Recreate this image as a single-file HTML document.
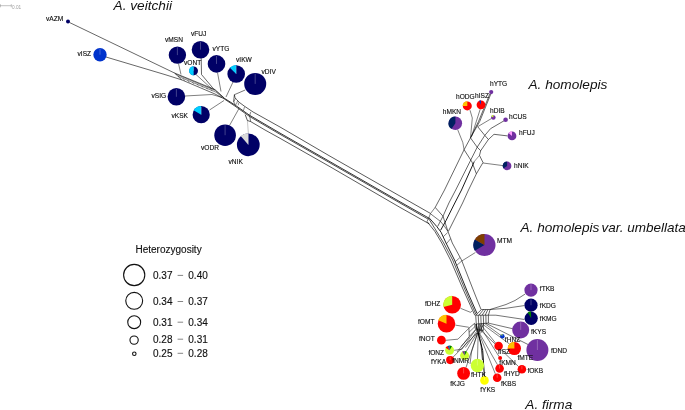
<!DOCTYPE html>
<html><head><meta charset="utf-8"><title>Abies network</title>
<style>
html,body{margin:0;padding:0;background:#fff;}
body{width:685px;height:410px;overflow:hidden;}
svg{display:block;font-family:"Liberation Sans",sans-serif;}
svg text{fill:#111;}
#labels text,#legend text{stroke:#111;stroke-width:0.14px;}
</style></head>
<body>
<svg width="685" height="410" viewBox="0 0 685 410">
<rect width="685" height="410" fill="#fff"/>
<g id="lines" stroke-linecap="butt" stroke-linejoin="miter">
<path d="M69.5 22.5L174.5 73.0L215.0 89.6L224.2 98.0" stroke="#000" stroke-width="0.6" fill="none"/>
<path d="M106.0 57.0L165.0 74.6L181.8 79.9L215.0 94.0L224.2 98.9" stroke="#000" stroke-width="0.6" fill="none"/>
<path d="M174.5 73.0L181.8 79.9" stroke="#000" stroke-width="0.55" fill="none"/>
<path d="M175.6 74.1L215.5 90.6L224.2 98.2" stroke="#000" stroke-width="0.45" fill="none"/>
<path d="M178.0 76.3L216.0 92.2L224.2 98.5" stroke="#000" stroke-width="0.45" fill="none"/>
<path d="M183.0 78.5L184.8 80.8" stroke="#000" stroke-width="0.35" fill="none"/>
<path d="M187.6 80.4L189.4 82.5" stroke="#000" stroke-width="0.35" fill="none"/>
<path d="M192.2 82.3L194.0 84.1" stroke="#000" stroke-width="0.35" fill="none"/>
<path d="M196.8 84.1L198.6 85.8" stroke="#000" stroke-width="0.35" fill="none"/>
<path d="M201.4 86.0L203.2 87.4" stroke="#000" stroke-width="0.35" fill="none"/>
<path d="M206.0 87.9L207.8 89.1" stroke="#000" stroke-width="0.35" fill="none"/>
<path d="M210.6 89.8L212.4 90.8" stroke="#000" stroke-width="0.35" fill="none"/>
<path d="M178.5 63.5L181.0 74.5" stroke="#000" stroke-width="0.5" fill="none"/>
<path d="M201.2 58.0L201.5 74.5L214.5 90.0" stroke="#000" stroke-width="0.6" fill="none"/>
<path d="M196.0 74.5L212.0 89.0" stroke="#000" stroke-width="0.5" fill="none"/>
<path d="M217.5 72.5L221.0 91.5" stroke="#000" stroke-width="0.5" fill="none"/>
<path d="M233.0 82.0L226.0 97.0" stroke="#000" stroke-width="0.5" fill="none"/>
<path d="M185.0 96.0L212.0 94.5L222.0 97.5" stroke="#000" stroke-width="0.5" fill="none"/>
<path d="M209.5 110.0L224.0 100.5" stroke="#000" stroke-width="0.5" fill="none"/>
<path d="M229.5 125.5L239.0 108.5" stroke="#000" stroke-width="0.5" fill="none"/>
<path d="M248.4 133.5L247.4 120.5" stroke="#999" stroke-width="0.55" fill="none"/>
<path d="M245.2 90.0L234.4 94.7L233.5 101.5L235.5 104.8" stroke="#000" stroke-width="0.55" fill="none"/>
<path d="M234.4 94.7L235.0 97.7L236.7 99.7L239.6 102.6L244.3 106.1L253.1 112.0L280.0 127.0L330.0 156.2L400.0 196.1L430.4 213.4" stroke="#000" stroke-width="0.65" fill="none"/>
<path d="M224.2 98.2L235.0 105.0L249.6 115.3L280.0 133.1L330.0 161.7L400.0 201.8L428.7 218.0" stroke="#000" stroke-width="0.8" fill="none"/>
<path d="M224.2 98.9L235.0 106.1L249.6 116.5L280.0 134.3L330.0 162.9L400.0 203.0L428.3 219.2" stroke="#000" stroke-width="0.7" fill="none"/>
<path d="M245.2 114.6L247.4 120.5L250.7 121.6L265.0 130.0L280.0 138.3L330.0 166.7L400.0 207.4L429.3 223.9" stroke="#000" stroke-width="0.65" fill="none"/>
<path d="M235.5 98.2L233.8 102.0" stroke="#000" stroke-width="0.45" fill="none"/>
<path d="M237.6 100.6L236.4 104.4" stroke="#000" stroke-width="0.45" fill="none"/>
<path d="M239.0 102.3L238.2 105.3" stroke="#000" stroke-width="0.45" fill="none"/>
<path d="M244.6 106.7L243.4 110.8" stroke="#000" stroke-width="0.45" fill="none"/>
<path d="M250.7 112.1L249.6 115.7L250.7 121.6" stroke="#000" stroke-width="0.5" fill="none"/>
<path d="M435.2 207.4L444.5 190.0L464.1 149.7L470.5 137.9L479.7 121.5L491.0 93.5" stroke="#000" stroke-width="0.6" fill="none"/>
<path d="M470.5 137.9L478.5 121.5L490.0 93.5" stroke="#000" stroke-width="0.6" fill="none"/>
<path d="M437.7 226.4L443.0 216.2L448.9 203.0L455.7 190.0L477.2 147.2L484.8 135.4L490.5 128.7L504.0 120.8" stroke="#000" stroke-width="0.6" fill="none"/>
<path d="M440.6 230.3L446.0 220.6L454.8 203.0L461.5 190.0L474.3 161.5" stroke="#000" stroke-width="0.9" fill="none"/>
<path d="M474.3 161.5L479.5 155.4" stroke="#666" stroke-width="0.7" fill="none"/>
<path d="M448.4 231.3L462.6 203.0L468.5 190.0L476.4 173.8L483.0 162.5L479.5 155.4L480.7 150.7L488.4 139.5L494.0 134.3L507.5 135.9" stroke="#000" stroke-width="0.6" fill="none"/>
<path d="M464.1 149.7L472.0 162.0L476.4 173.8" stroke="#000" stroke-width="0.6" fill="none"/>
<path d="M470.5 137.9L477.2 147.2L480.7 150.7" stroke="#000" stroke-width="0.6" fill="none"/>
<path d="M477.7 126.7L484.8 135.4L488.4 139.5" stroke="#000" stroke-width="0.6" fill="none"/>
<path d="M477.7 126.7L491.5 118.5" stroke="#000" stroke-width="0.5" fill="none"/>
<path d="M483.0 163.0L503.0 165.6" stroke="#000" stroke-width="0.5" fill="none"/>
<path d="M457.7 129.7L462.8 142.5L464.1 149.7" stroke="#000" stroke-width="0.5" fill="none"/>
<path d="M470.5 137.9L472.3 118.0L470.0 110.2" stroke="#000" stroke-width="0.5" fill="none"/>
<path d="M471.5 136.5L480.2 109.2" stroke="#000" stroke-width="0.5" fill="none"/>
<path d="M435.2 207.4L443.0 216.2L447.9 231.3L452.3 243.0L461.5 260.0L475.6 296.0L481.0 309.4" stroke="#000" stroke-width="0.6" fill="none"/>
<path d="M430.4 213.7L440.6 221.5L444.5 226.4L447.9 231.3" stroke="#000" stroke-width="0.55" fill="none"/>
<path d="M428.9 217.6L436.7 226.4L441.1 232.3L446.0 243.0L454.5 260.0L466.7 290.0L477.0 313.4" stroke="#000" stroke-width="0.85" fill="none"/>
<path d="M428.6 218.4L434.8 228.5L443.7 243.0L452.7 260.0L465.2 290.0L476.0 314.6" stroke="#000" stroke-width="0.65" fill="none"/>
<path d="M427.0 221.5L434.8 231.3L441.8 243.0L450.5 260.0L463.4 290.0L474.8 315.3" stroke="#000" stroke-width="0.65" fill="none"/>
<path d="M435.2 207.4L430.4 213.7L428.6 218.4L427.0 221.5" stroke="#000" stroke-width="0.5" fill="none"/>
<path d="M443.4 236.6L447.6 232.6" stroke="#000" stroke-width="0.5" fill="none"/>
<path d="M446.3 243.9L450.5 238.8" stroke="#000" stroke-width="0.5" fill="none"/>
<path d="M455.2 261.7L459.9 257.6" stroke="#000" stroke-width="0.5" fill="none"/>
<path d="M456.9 265.2L461.6 261.1L475.4 252.5" stroke="#000" stroke-width="0.5" fill="none"/>
<path d="M475.7 315.2L488.4 315.2L490.1 309.5L481.4 309.5L475.7 315.2" stroke="#000" stroke-width="0.6" fill="none"/>
<path d="M478.9 315.2L483.6 309.5" stroke="#000" stroke-width="0.6" fill="none"/>
<path d="M482.1 315.2L485.8 309.5" stroke="#000" stroke-width="0.6" fill="none"/>
<path d="M485.2 315.2L487.9 309.5" stroke="#000" stroke-width="0.6" fill="none"/>
<path d="M475.7 315.2L476.3 324.0L488.4 323.1L488.4 315.2" stroke="#000" stroke-width="0.6" fill="none"/>
<path d="M478.2 315.2L478.7 323.8" stroke="#000" stroke-width="0.6" fill="none"/>
<path d="M480.8 315.2L481.1 323.6" stroke="#000" stroke-width="0.6" fill="none"/>
<path d="M483.3 315.2L483.6 323.5" stroke="#000" stroke-width="0.6" fill="none"/>
<path d="M485.9 315.2L486.0 323.3" stroke="#000" stroke-width="0.6" fill="none"/>
<path d="M476.3 324.0L478.2 332.8" stroke="#000" stroke-width="0.9" fill="none"/>
<path d="M478.7 323.8L478.2 332.8" stroke="#000" stroke-width="0.7" fill="none"/>
<path d="M481.1 323.6L478.7 332.8" stroke="#000" stroke-width="0.7" fill="none"/>
<path d="M483.6 323.4L479.2 332.8" stroke="#000" stroke-width="0.6" fill="none"/>
<path d="M475.9 324.0L477.2 332.5" stroke="#000" stroke-width="0.9" fill="none"/>
<path d="M483.6 323.4L483.3 330.4L479.2 334.2" stroke="#000" stroke-width="0.55" fill="none"/>
<path d="M479.6 323.8L479.8 331.5" stroke="#000" stroke-width="0.55" fill="none"/>
<path d="M481.6 323.6L481.4 331.5" stroke="#000" stroke-width="0.5" fill="none"/>
<path d="M476.6 329.6L483.3 330.4" stroke="#000" stroke-width="0.5" fill="none"/>
<path d="M476.3 331.9L465.5 347.5" stroke="#000" stroke-width="0.5" fill="none"/>
<path d="M469.3 337.0L461.0 346.5" stroke="#000" stroke-width="0.5" fill="none"/>
<path d="M468.9 328.2L474.6 323.3L475.5 329.9L469.3 336.5L468.9 328.2" stroke="#000" stroke-width="0.6" fill="none"/>
<path d="M469.1 332.2L475.0 326.5" stroke="#000" stroke-width="0.5" fill="none"/>
<path d="M490.1 309.5L506.0 304.5L515.0 300.5L525.2 294.0" stroke="#000" stroke-width="0.55" fill="none"/>
<path d="M490.1 309.5L506.0 308.3L524.2 305.6" stroke="#000" stroke-width="0.55" fill="none"/>
<path d="M488.4 315.2L495.9 315.2L524.6 319.5" stroke="#000" stroke-width="0.55" fill="none"/>
<path d="M488.4 323.1L513.0 328.8" stroke="#000" stroke-width="0.55" fill="none"/>
<path d="M486.0 323.3L528.0 344.5" stroke="#000" stroke-width="0.55" fill="none"/>
<path d="M484.5 323.4L501.0 335.5" stroke="#000" stroke-width="0.5" fill="none"/>
<path d="M483.0 324.5L509.5 344.0" stroke="#000" stroke-width="0.5" fill="none"/>
<path d="M482.0 326.0L495.5 343.0" stroke="#000" stroke-width="0.5" fill="none"/>
<path d="M481.0 328.0L499.0 356.5" stroke="#000" stroke-width="0.5" fill="none"/>
<path d="M480.5 330.0L518.5 366.5" stroke="#000" stroke-width="0.5" fill="none"/>
<path d="M479.2 332.8L497.5 364.8" stroke="#000" stroke-width="0.5" fill="none"/>
<path d="M478.7 332.8L495.3 373.8" stroke="#000" stroke-width="0.5" fill="none"/>
<path d="M478.2 332.8L482.7 350.6L484.4 376.2" stroke="#000" stroke-width="1.0" fill="none"/>
<path d="M478.2 332.8L481.0 345.0L482.5 360.0" stroke="#000" stroke-width="0.7" fill="none"/>
<path d="M478.2 332.8L477.5 359.0" stroke="#000" stroke-width="0.5" fill="none"/>
<path d="M477.7 332.8L466.0 367.5" stroke="#000" stroke-width="0.5" fill="none"/>
<path d="M477.7 332.8L471.5 352.0L470.0 364.0" stroke="#000" stroke-width="0.5" fill="none"/>
<path d="M477.2 332.8L466.3 351.3" stroke="#000" stroke-width="0.5" fill="none"/>
<path d="M475.5 329.9L462.0 349.2L454.1 350.3" stroke="#000" stroke-width="0.5" fill="none"/>
<path d="M477.2 332.8L453.0 357.2" stroke="#000" stroke-width="0.5" fill="none"/>
<path d="M469.3 336.5L457.0 352.0" stroke="#000" stroke-width="0.5" fill="none"/>
<path d="M460.5 308.3L470.4 312.3L472.0 311.2" stroke="#000" stroke-width="0.5" fill="none"/>
<path d="M455.3 325.1L468.9 327.3" stroke="#000" stroke-width="0.5" fill="none"/>
<path d="M445.8 340.3L457.9 339.2L468.9 328.2" stroke="#000" stroke-width="0.5" fill="none"/>
</g>
<g id="nodes">
<circle cx="68" cy="21.6" r="2" fill="#000066"/>
<circle cx="100" cy="54.7" r="6.7" fill="#0033cc"/><line x1="100" y1="54.7" x2="100" y2="48.80" stroke="#fff" stroke-opacity="0.5" stroke-width="0.5"/>
<circle cx="177.4" cy="55.1" r="8.7" fill="#000066"/><line x1="177.4" y1="55.1" x2="177.4" y2="47.20" stroke="#fff" stroke-opacity="0.5" stroke-width="0.5"/>
<circle cx="200.5" cy="49.7" r="8.8" fill="#000066"/><line x1="200.5" y1="49.7" x2="200.5" y2="41.70" stroke="#fff" stroke-opacity="0.5" stroke-width="0.5"/>
<circle cx="193.6" cy="70.8" r="4.4" fill="#000066"/><path d="M193.6 70.8L193.60 75.40A4.60 4.60 0 0 1 193.60 66.20Z" fill="#00ccff"/><line x1="193.6" y1="70.8" x2="193.6" y2="67.20" stroke="#fff" stroke-opacity="0.5" stroke-width="0.5"/>
<circle cx="216.5" cy="63.9" r="8.8" fill="#000066"/><line x1="216.5" y1="63.9" x2="216.5" y2="55.90" stroke="#fff" stroke-opacity="0.5" stroke-width="0.5"/>
<circle cx="236.2" cy="74" r="8.8" fill="#000066"/><path d="M236.2 74L229.84 67.64A9.00 9.00 0 0 1 236.20 65.00Z" fill="#00ccff"/><line x1="236.2" y1="74" x2="236.2" y2="66.00" stroke="#fff" stroke-opacity="0.5" stroke-width="0.5"/>
<circle cx="255.2" cy="83.9" r="11" fill="#000066"/><line x1="255.2" y1="83.9" x2="255.2" y2="73.70" stroke="#fff" stroke-opacity="0.5" stroke-width="0.5"/>
<circle cx="176.4" cy="96.8" r="8.8" fill="#000066"/><line x1="176.4" y1="96.8" x2="176.4" y2="88.80" stroke="#fff" stroke-opacity="0.5" stroke-width="0.5"/>
<circle cx="201.2" cy="114.7" r="8.6" fill="#000066"/><path d="M201.2 114.7L193.58 110.30A8.80 8.80 0 0 1 201.20 105.90Z" fill="#00ccff"/><line x1="201.2" y1="114.7" x2="201.2" y2="106.90" stroke="#fff" stroke-opacity="0.5" stroke-width="0.5"/>
<circle cx="225.1" cy="135.2" r="10.8" fill="#000066"/><line x1="225.1" y1="135.2" x2="225.1" y2="125.20" stroke="#fff" stroke-opacity="0.5" stroke-width="0.5"/>
<circle cx="248.3" cy="144.8" r="11.4" fill="#000066"/><path d="M248.3 144.8L240.69 136.05A11.60 11.60 0 0 1 248.30 133.20Z" fill="#d9d9d9"/><line x1="248.3" y1="144.8" x2="248.3" y2="134.20" stroke="#fff" stroke-opacity="0.5" stroke-width="0.5"/>
<circle cx="491.2" cy="92.1" r="2.1" fill="#7030a0"/>
<circle cx="467.3" cy="105.9" r="4.5" fill="#ff0000"/><path d="M467.3 105.9L462.60 105.90A4.70 4.70 0 0 1 467.30 101.20Z" fill="#ffc000"/>
<circle cx="481" cy="104.8" r="4.4" fill="#ff0000"/><path d="M481 104.8L479.06 100.63A4.60 4.60 0 0 1 481.00 100.20Z" fill="#0033cc"/>
<circle cx="455.4" cy="123.3" r="6.7" fill="#7030a0"/><path d="M455.4 123.3L451.44 128.95A6.90 6.90 0 0 1 455.40 116.40Z" fill="#002060"/>
<circle cx="493.3" cy="117.5" r="2.3" fill="#7030a0"/><path d="M493.3 117.5L491.13 116.25A2.50 2.50 0 0 1 493.30 115.00Z" fill="#ccff33"/>
<circle cx="505.6" cy="119.7" r="2.3" fill="#7030a0"/>
<circle cx="512" cy="135.9" r="4.4" fill="#7030a0"/><path d="M512 135.9L508.48 132.94A4.60 4.60 0 0 1 512.00 131.30Z" fill="#ff99ff"/>
<circle cx="507.1" cy="165.9" r="4.3" fill="#7030a0"/><path d="M507.1 165.9L503.41 168.48A4.50 4.50 0 0 1 507.10 161.40Z" fill="#002060"/>
<circle cx="484.5" cy="245.1" r="11" fill="#7030a0"/><path d="M484.5 245.1L474.80 250.70A11.20 11.20 0 0 1 474.80 239.50Z" fill="#002060"/><path d="M484.5 245.1L474.80 239.50A11.20 11.20 0 0 1 484.50 233.90Z" fill="#7f3f00"/>
<circle cx="452.2" cy="304.8" r="8.8" fill="#ff0000"/><path d="M452.2 304.8L443.45 306.90A9.00 9.00 0 0 1 452.20 295.80Z" fill="#ccff33"/>
<circle cx="446.5" cy="323.7" r="8.8" fill="#ff0000"/><path d="M446.5 323.7L438.22 320.18A9.00 9.00 0 0 1 446.50 314.70Z" fill="#ffc000"/>
<circle cx="441.4" cy="340.2" r="4.4" fill="#ff0000"/>
<circle cx="449.6" cy="350.2" r="4.5" fill="#ccff33"/><path d="M449.6 350.2L449.60 345.50A4.70 4.70 0 0 1 451.95 346.13Z" fill="#008000"/><path d="M449.6 350.2L445.53 347.85A4.70 4.70 0 0 1 447.61 345.94Z" fill="#ff0000"/><path d="M449.6 350.2L447.61 345.94A4.70 4.70 0 0 1 449.60 345.50Z" fill="#0033cc"/>
<circle cx="464.6" cy="355.6" r="4.5" fill="#ccff33"/><path d="M464.6 355.6L464.60 350.90A4.70 4.70 0 0 1 466.95 351.53Z" fill="#008000"/><path d="M464.6 355.6L462.11 351.61A4.70 4.70 0 0 1 464.60 350.90Z" fill="#7030a0"/>
<circle cx="450.2" cy="360.1" r="4.1" fill="#ff0000"/><line x1="450.2" y1="360.1" x2="450.2" y2="356.80" stroke="#fff" stroke-opacity="0.5" stroke-width="0.5"/>
<circle cx="477.4" cy="365.5" r="6.7" fill="#ccff33"/><line x1="477.4" y1="365.5" x2="477.4" y2="359.60" stroke="#fff" stroke-opacity="0.5" stroke-width="0.5"/>
<circle cx="463.6" cy="373.4" r="6.4" fill="#ff0000"/><line x1="463.6" y1="373.4" x2="463.6" y2="367.80" stroke="#fff" stroke-opacity="0.5" stroke-width="0.5"/>
<circle cx="484.5" cy="380.4" r="4.3" fill="#ffff00"/><line x1="484.5" y1="380.4" x2="484.5" y2="376.90" stroke="#fff" stroke-opacity="0.5" stroke-width="0.5"/>
<circle cx="498.6" cy="346" r="4.3" fill="#ff0000"/>
<circle cx="514.4" cy="348.5" r="6.6" fill="#ff0000"/><path d="M514.4 348.5L507.60 348.50A6.80 6.80 0 0 1 514.40 341.70Z" fill="#ffc000"/>
<circle cx="537.4" cy="350" r="11" fill="#7030a0"/><line x1="537.4" y1="350" x2="537.4" y2="339.80" stroke="#fff" stroke-opacity="0.5" stroke-width="0.5"/>
<circle cx="500.1" cy="358.1" r="2" fill="#ff0000"/>
<circle cx="499.6" cy="368.5" r="4.3" fill="#ff0000"/><line x1="499.6" y1="368.5" x2="499.6" y2="365.00" stroke="#fff" stroke-opacity="0.5" stroke-width="0.5"/>
<circle cx="521.9" cy="369.3" r="4.3" fill="#ff0000"/><line x1="521.9" y1="369.3" x2="521.9" y2="365.80" stroke="#fff" stroke-opacity="0.5" stroke-width="0.5"/>
<circle cx="497.2" cy="377.7" r="4.3" fill="#ff0000"/><line x1="497.2" y1="377.7" x2="497.2" y2="374.20" stroke="#fff" stroke-opacity="0.5" stroke-width="0.5"/>
<circle cx="531.0" cy="290.1" r="6.6" fill="#7030a0"/><line x1="531.0" y1="290.1" x2="531.0" y2="284.30" stroke="#fff" stroke-opacity="0.5" stroke-width="0.5"/>
<circle cx="531.0" cy="305.2" r="6.6" fill="#000066"/><line x1="531.0" y1="305.2" x2="531.0" y2="299.40" stroke="#fff" stroke-opacity="0.5" stroke-width="0.5"/>
<circle cx="531.2" cy="318.3" r="6.6" fill="#000066"/><path d="M531.2 318.3L527.60 312.53A6.80 6.80 0 0 1 530.96 311.50Z" fill="#008000"/>
<circle cx="520.7" cy="329.9" r="8.5" fill="#7030a0"/><line x1="520.7" y1="329.9" x2="520.7" y2="322.20" stroke="#fff" stroke-opacity="0.5" stroke-width="0.5"/>
<circle cx="502.4" cy="336.3" r="2.2" fill="#0033cc"/><path d="M502.4 336.3L500.86 334.46A2.40 2.40 0 0 1 502.40 333.90Z" fill="#ccff33"/>
</g>
<g id="labels" fill="#111">
<text x="46" y="20.9" font-size="6.6" text-anchor="start">vAZM</text>
<text x="77.5" y="55.6" font-size="6.6" text-anchor="start">vISZ</text>
<text x="165" y="42" font-size="6.6" text-anchor="start">vMSN</text>
<text x="191" y="36" font-size="6.6" text-anchor="start">vFUJ</text>
<text x="184" y="65.3" font-size="6.6" text-anchor="start">vONT</text>
<text x="212.5" y="51" font-size="6.6" text-anchor="start">vYTG</text>
<text x="236" y="61.7" font-size="6.6" text-anchor="start">vIKW</text>
<text x="261.5" y="73.5" font-size="6.6" text-anchor="start">vDIV</text>
<text x="151.5" y="97.6" font-size="6.6" text-anchor="start">vSIG</text>
<text x="171.5" y="117.9" font-size="6.6" text-anchor="start">vKSK</text>
<text x="201" y="150" font-size="6.6" text-anchor="start">vODR</text>
<text x="228.5" y="163.9" font-size="6.6" text-anchor="start">vNIK</text>
<text x="490" y="86.3" font-size="6.6" text-anchor="start">hYTG</text>
<text x="456" y="98.8" font-size="6.6" text-anchor="start">hODG</text>
<text x="475" y="97.6" font-size="6.6" text-anchor="start">hISZ</text>
<text x="442.8" y="114" font-size="6.6" text-anchor="start">hMKN</text>
<text x="490" y="113" font-size="6.6" text-anchor="start">hDIB</text>
<text x="509" y="119" font-size="6.6" text-anchor="start">hCUS</text>
<text x="519" y="135.3" font-size="6.6" text-anchor="start">hFUJ</text>
<text x="514" y="167.6" font-size="6.6" text-anchor="start">hNIK</text>
<text x="497" y="242.8" font-size="6.6" text-anchor="start">MTM</text>
<text x="425" y="305.7" font-size="6.6" text-anchor="start">fDHZ</text>
<text x="418" y="324" font-size="6.6" text-anchor="start">fOMT</text>
<text x="419" y="341" font-size="6.6" text-anchor="start">fNOT</text>
<text x="428.4" y="354.5" font-size="6.6" text-anchor="start">fONZ</text>
<text x="452.2" y="363.3" font-size="6.6" text-anchor="start">fNMR</text>
<text x="431" y="364.3" font-size="6.6" text-anchor="start">fYKA</text>
<text x="471" y="377.2" font-size="6.6" text-anchor="start">fHTK</text>
<text x="450.2" y="386.2" font-size="6.6" text-anchor="start">fKJG</text>
<text x="480.2" y="392.3" font-size="6.6" text-anchor="start">fYKS</text>
<text x="498" y="354" font-size="6.6" text-anchor="start">fISZ</text>
<text x="517.4" y="360.4" font-size="6.6" text-anchor="start">fMTE</text>
<text x="551" y="352.8" font-size="6.6" text-anchor="start">fDND</text>
<text x="499.3" y="365.1" font-size="6.6" text-anchor="start">fKMN</text>
<text x="504" y="376" font-size="6.6" text-anchor="start">fHYD</text>
<text x="527.4" y="372.5" font-size="6.6" text-anchor="start">fOKB</text>
<text x="501" y="386" font-size="6.6" text-anchor="start">fKBS</text>
<text x="539.8" y="291.4" font-size="6.6" text-anchor="start">fTKB</text>
<text x="539.8" y="307.8" font-size="6.6" text-anchor="start">fKDG</text>
<text x="539.8" y="321.4" font-size="6.6" text-anchor="start">fKMG</text>
<text x="531" y="334.1" font-size="6.6" text-anchor="start">fKYS</text>
<text x="504.8" y="342" font-size="6.6" text-anchor="start">fHNZ</text>
</g>
<g id="titles" style="stroke:none">
<text x="113.6" y="9.8" font-size="13.65" font-style="italic">A. veitchii</text>
<text x="528.5" y="89" font-size="13.65" font-style="italic">A. homolepis</text>
<text x="520.5" y="231.8" font-size="13.65" font-style="italic">A. homolepis</text>
<text x="601.4" y="231.8" font-size="13.5" font-style="italic">var. umbellata</text>
<text x="525.3" y="408.6" font-size="13.65" font-style="italic">A. firma</text>
</g>
<g id="legend">
<text x="135.5" y="252.6" font-size="10">Heterozygosity</text>
<circle cx="134.2" cy="275.0" r="10.6" fill="none" stroke="#111" stroke-width="1.1"/>
<circle cx="134.2" cy="300.85" r="8.45" fill="none" stroke="#111" stroke-width="1.1"/>
<circle cx="134.2" cy="322.2" r="6.45" fill="none" stroke="#111" stroke-width="1.1"/>
<circle cx="134.1" cy="340.1" r="4.15" fill="none" stroke="#111" stroke-width="1.1"/>
<circle cx="134.3" cy="353.8" r="1.75" fill="none" stroke="#111" stroke-width="1.1"/>
<text x="153" y="278.8" font-size="10">0.37</text>
<line x1="177.6" y1="275.40000000000003" x2="183.1" y2="275.40000000000003" stroke="#666" stroke-width="0.8"/>
<text x="188.3" y="278.8" font-size="10">0.40</text>
<text x="153" y="304.9" font-size="10">0.34</text>
<line x1="177.6" y1="301.5" x2="183.1" y2="301.5" stroke="#666" stroke-width="0.8"/>
<text x="188.3" y="304.9" font-size="10">0.37</text>
<text x="153" y="325.6" font-size="10">0.31</text>
<line x1="177.6" y1="322.20000000000005" x2="183.1" y2="322.20000000000005" stroke="#666" stroke-width="0.8"/>
<text x="188.3" y="325.6" font-size="10">0.34</text>
<text x="153" y="342.6" font-size="10">0.28</text>
<line x1="177.6" y1="339.20000000000005" x2="183.1" y2="339.20000000000005" stroke="#666" stroke-width="0.8"/>
<text x="188.3" y="342.6" font-size="10">0.31</text>
<text x="153" y="356.7" font-size="10">0.25</text>
<line x1="177.6" y1="353.3" x2="183.1" y2="353.3" stroke="#666" stroke-width="0.8"/>
<text x="188.3" y="356.7" font-size="10">0.28</text>
</g>
<g id="scale">
<path d="M0 5.7H11.4M0.4 4.2V7.3M11.3 4.2V7.3" stroke="#999" stroke-width="0.6" fill="none"/>
<text x="12.1" y="8.8" font-size="4.7" style="fill:#a0a0a0;stroke:none">0.01</text>
</g>
</svg>
</body></html>
